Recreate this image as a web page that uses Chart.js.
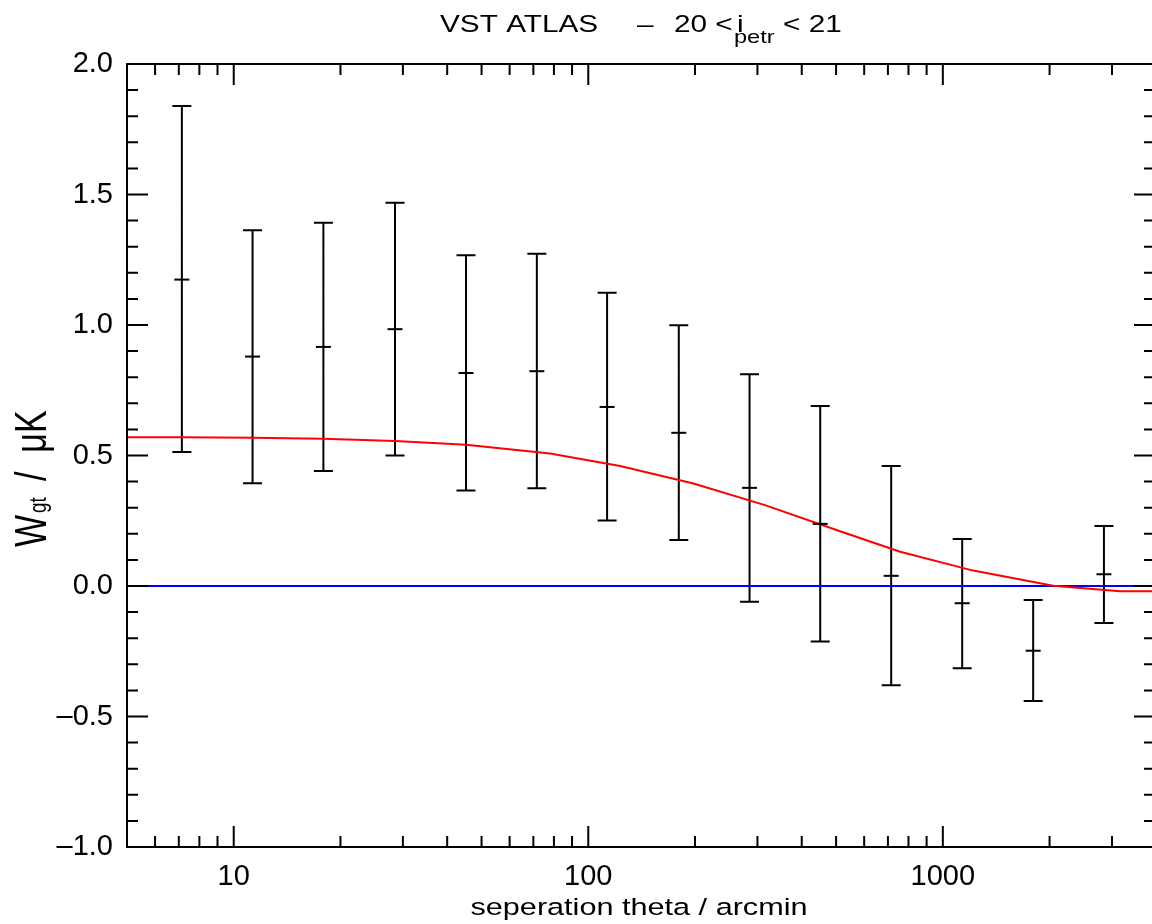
<!DOCTYPE html>
<html>
<head>
<meta charset="utf-8">
<script src="https://cdn.jsdelivr.net/npm/chart.js@4/dist/chart.umd.min.js"></script>
<style>
  html, body { margin: 0; padding: 0; background: #fff; overflow: hidden; }
  canvas { display: block; }
</style>
</head>
<body>
<canvas id="chart" width="1152" height="924"></canvas>
<script>
// measured angular bins (arcmin) and W_gt with 1-sigma limits
const theta = [7.14, 11.3, 17.9, 28.5, 45.2, 71.6, 113, 180, 285, 451, 715, 1134, 1798, 2847];
const wMean = [1.174, 0.879, 0.916, 0.984, 0.816, 0.823, 0.686, 0.587, 0.376, 0.238, 0.039, -0.066, -0.248, 0.045];
const wUpper = [1.839, 1.363, 1.392, 1.468, 1.267, 1.273, 1.124, 0.999, 0.811, 0.690, 0.460, 0.180, -0.054, 0.230];
const wLower = [0.513, 0.394, 0.441, 0.500, 0.366, 0.375, 0.251, 0.176, -0.060, -0.213, -0.380, -0.315, -0.441, -0.142];

// model curve (red)
const modelTheta = [5, 7.14, 11.3, 17.9, 28.5, 45.2, 78, 123, 198, 315, 513, 758, 1218, 2048, 3165, 4000];
const modelW = [0.570, 0.570, 0.568, 0.564, 0.556, 0.541, 0.508, 0.460, 0.393, 0.310, 0.210, 0.131, 0.059, 0.001, -0.020, -0.020];

// zero line (blue)
const zeroTheta = [5, 4000];
const zeroW = [0, 0];

const xTickValues = [10, 100, 1000];
const yTickValues = [-1.0, -0.5, 0.0, 0.5, 1.0, 1.5, 2.0];

const FONT = '"Liberation Sans", Arial, Helvetica, sans-serif';
Chart.defaults.font.family = FONT;
Chart.defaults.color = '#000';

// error bars with caps, drawn under the lines
const errorBars = {
    id: 'errorBars',
    beforeDatasetsDraw(chart) {
        const { ctx, scales: { x, y } } = chart;
        ctx.save();
        ctx.strokeStyle = '#000';
        ctx.lineWidth = 2;
        ctx.beginPath();
        theta.forEach((t, i) => {
            const px = x.getPixelForValue(t);
            const top = y.getPixelForValue(wUpper[i]);
            const bot = y.getPixelForValue(wLower[i]);
            ctx.moveTo(px, top); ctx.lineTo(px, bot);
            ctx.moveTo(px - 9.5, top); ctx.lineTo(px + 9.5, top);
            ctx.moveTo(px - 9.5, bot); ctx.lineTo(px + 9.5, bot);
        });
        ctx.stroke();
        ctx.restore();
    }
};

// IDL style box with inward ticks, plus titles
// (the right-hand axis of the original sits just past the image edge)
const frame = {
    id: 'frame',
    afterDraw(chart) {
        const { ctx, chartArea: a, scales: { x, y } } = chart;
        ctx.save();
        ctx.strokeStyle = '#000';
        ctx.lineWidth = 2;
        ctx.beginPath();
        ctx.moveTo(a.right + 2, a.top); ctx.lineTo(a.left, a.top);
        ctx.lineTo(a.left, a.bottom); ctx.lineTo(a.right + 2, a.bottom);

        for (let d = 1; d <= 1000; d *= 10) {
            for (let m = 1; m <= 9; m++) {
                const v = m * d;
                if (v < x.min || v > x.max) continue;
                const px = x.getPixelForValue(v);
                const len = m === 1 ? 21 : 11;
                ctx.moveTo(px, a.bottom); ctx.lineTo(px, a.bottom - len);
                ctx.moveTo(px, a.top); ctx.lineTo(px, a.top + len);
            }
        }
        for (let i = -10; i <= 20; i++) {
            const py = y.getPixelForValue(i / 10);
            const major = i % 5 === 0;
            ctx.moveTo(a.left, py); ctx.lineTo(a.left + (major ? 21 : 11), py);
            ctx.moveTo(a.right + 2, py); ctx.lineTo(a.right - (major ? 18 : 8), py);
        }
        ctx.stroke();

        ctx.fillStyle = '#000';
        ctx.textBaseline = 'alphabetic';

        // main title
        const sx = 1.24;
        const put = (txt, px, py, size) => {
            ctx.save();
            ctx.translate(px, py);
            ctx.scale(sx, 1);
            ctx.font = size + 'px ' + FONT;
            ctx.fillText(txt, 0, 0);
            ctx.restore();
        };
        put('VST ATLAS', 440, 32, 24);
        put('\u2013', 637, 32, 24);
        put('20 <', 674, 32, 24);
        put('i', 737, 32, 24);
        put('petr', 734, 43, 19);
        put('< 21', 783, 32, 24);

        // x axis title
        ctx.save();
        ctx.translate(639, 915);
        ctx.scale(1.25, 1);
        ctx.font = '24.5px ' + FONT;
        ctx.textAlign = 'center';
        ctx.fillText('seperation theta / arcmin', 0, 0);
        ctx.restore();

        // y axis title (rotated)
        ctx.save();
        ctx.translate(46, 547);
        ctx.rotate(-Math.PI / 2);
        ctx.scale(1, 1.3);
        ctx.font = '34px ' + FONT;
        ctx.fillText('W', 0, 0);
        ctx.font = '19px ' + FONT;
        ctx.fillText('gt', 34, 0);
        ctx.font = '34px ' + FONT;
        ctx.fillText('/  \u03bcK', 66, 0);
        ctx.restore();

        ctx.restore();
    }
};

new Chart(document.getElementById('chart'), {
    type: 'scatter',
    data: {
        datasets: [
            {
                type: 'line',
                label: 'zero',
                data: zeroTheta.map((t, i) => ({ x: t, y: zeroW[i] })),
                borderColor: '#0000ff',
                borderWidth: 2,
                pointRadius: 0,
                order: 3,
            },
            {
                type: 'line',
                label: 'model',
                data: modelTheta.map((t, i) => ({ x: t, y: modelW[i] })),
                borderColor: '#ff0000',
                borderWidth: 2,
                pointRadius: 0,
                tension: 0,
                order: 2,
            },
            {
                label: 'W_gt',
                data: theta.map((t, i) => ({ x: t, y: wMean[i] })),
                pointStyle: 'line',
                pointRadius: 7.5,
                borderColor: '#000',
                borderWidth: 2,
                order: 1,
            },
        ],
    },
    options: {
        responsive: false,
        animation: false,
        layout: { autoPadding: false, padding: { top: 64, right: 0, left: 0, bottom: 0 } },
        plugins: {
            legend: { display: false },
            tooltip: { enabled: false },
        },
        scales: {
            x: {
                type: 'logarithmic',
                min: 5,
                max: 3890,
                grid: { display: false },
                border: { display: false },
                afterBuildTicks: (scale) => { scale.ticks = xTickValues.map(v => ({ value: v })); },
                afterFit: (scale) => { scale.height = 77; },
                ticks: {
                    font: { size: 29 },
                    padding: 5,
                    maxRotation: 0,
                    autoSkip: false,
                    callback: (v) => String(v),
                },
            },
            y: {
                min: -1,
                max: 2,
                grid: { display: false },
                border: { display: false },
                afterBuildTicks: (scale) => { scale.ticks = yTickValues.map(v => ({ value: v })); },
                afterFit: (scale) => { scale.width = 127; },
                ticks: {
                    font: { size: 29 },
                    padding: 6,
                    callback: (v) => (v < 0 ? '\u2013' : '') + Math.abs(v).toFixed(1),
                },
            },
        },
    },
    plugins: [errorBars, frame],
});
</script>
</body>
</html>
